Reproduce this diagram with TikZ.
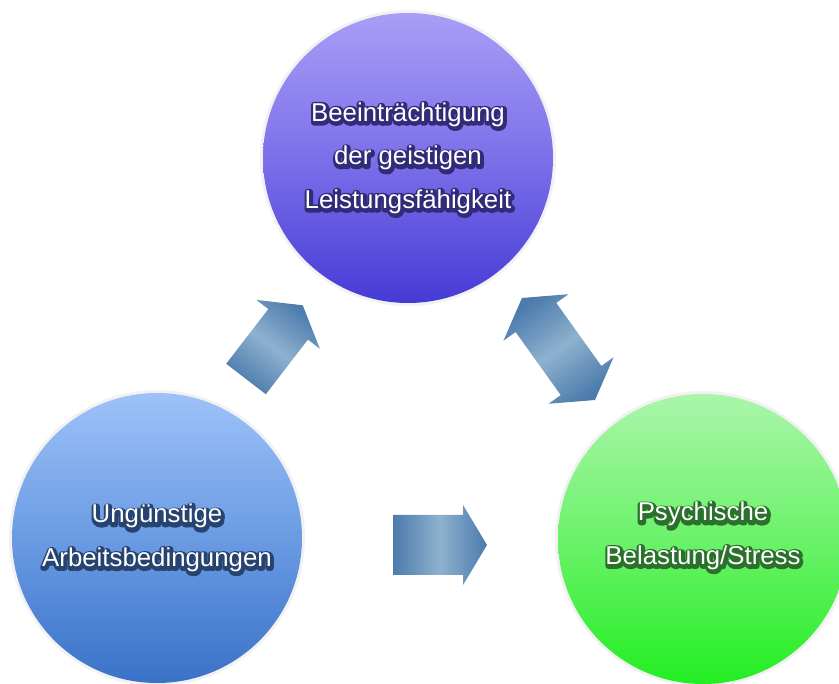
\documentclass[tikz,border=0pt]{standalone}
\usepackage{fontspec}
\setmainfont{Liberation Sans}
\usetikzlibrary{calc}
\definecolor{purT}{HTML}{A99DF7}
\definecolor{purM}{HTML}{7C70EA}
\definecolor{purB}{HTML}{463AD6}
\definecolor{bluT}{HTML}{9DC2F8}
\definecolor{bluM}{HTML}{6A9BE3}
\definecolor{bluB}{HTML}{3A72C8}
\definecolor{grnT}{HTML}{ABF5AA}
\definecolor{grnM}{HTML}{6CF26A}
\definecolor{grnB}{HTML}{22EE22}
\definecolor{arrD}{HTML}{4C7BAC}
\definecolor{arrL}{HTML}{8EB1CE}
\definecolor{haloP}{HTML}{1A1450}
\definecolor{haloB}{HTML}{10264A}
\definecolor{haloG}{HTML}{0E3A10}
\newcommand{\strokeon}[1]{\special{pdf:literal direct 1 Tr #1 w 1 j 1 J}}
\newcommand{\strokeoff}{\special{pdf:literal direct 0 Tr 1 w}}
\tikzset{
  bubble/.style={circle, minimum size=290bp, inner sep=0pt},
  lbl/.style={align=center, text=white, inner sep=0pt,
    font=\fontsize{25.8bp}{43.5bp}\selectfont},
  halo/.style 2 args={lbl, text=#1,
    font=\fontsize{25.8bp}{43.5bp}\selectfont\strokeon{#2},
    execute at end node=\strokeoff},
  blockarrow/.style={shade, shading=axis, top color=arrD, bottom color=arrD,
    middle color=arrL, shading angle=#1},
}
\begin{document}
\begin{tikzpicture}[x=1bp,y=1bp]
\useasboundingbox (0,0) rectangle (839,684);
\clip (0,0) rectangle (839,684);
\fill[white] (0,0) rectangle (839,684);
% soft glow round the circles
\fill[black, opacity=0.05] (408,526) circle (148);
\fill[black, opacity=0.05] (157,146) circle (148);
\fill[black, opacity=0.05] (703,145) circle (148);
% circles
\node[bubble, top color=purT, bottom color=purB, middle color=purM] (top) at (408,526) {};
\node[bubble, top color=bluT, bottom color=bluB, middle color=bluM] (left) at (157,146) {};
\node[bubble, top color=grnT, bottom color=grnB, middle color=grnM] (right) at (703,145) {};
% dark halos behind the labels
\node[halo={haloP!75!purM}{6}] (topH) at ($(top)+(0.8,-1.5)$) {Beeinträchtigung\\der geistigen\\Leistungsfähigkeit};
\node[halo={haloB!75!bluM}{6}] (leftH) at ($(left)+(0.8,-1.5)$) {Ungünstige\\Arbeitsbedingungen};
\node[halo={haloG!70!grnM}{6}] (rightH) at ($(right)+(0.8,1.5)$) {Psychische\\Belastung/Stress};
% labels
\node[lbl] (topT) at (top) {Beeinträchtigung\\der geistigen\\Leistungsfähigkeit};
\node[lbl] (leftT) at (left) {Ungünstige\\Arbeitsbedingungen};
\node[lbl] (rightT) at ($(right)+(0,3)$) {Psychische\\Belastung/Stress};
% arrow: left -> top
\coordinate (a1) at (246,305);
\begin{scope}[shift={(a1)}, rotate=52.4]
  \path[blockarrow=-37.6] (0,-25) -- (69,-25) -- (69,-40) -- (93,0) -- (69,40) -- (69,25) -- (0,25) -- cycle;
\end{scope}
% arrow: left -> right
\coordinate (a2) at (393,139);
\begin{scope}[shift={(a2)}]
  \path[blockarrow=90] (0,-30) -- (70,-30) -- (70,-40) -- (94,0) -- (70,40) -- (70,30) -- (0,30) -- cycle;
\end{scope}
% double arrow: top <-> right
\coordinate (a3) at (558.5,335);
\begin{scope}[shift={(a3)}, rotate=-54.4]
  \path[blockarrow=35.6] (-62.75,0) -- (-38.75,40) -- (-38.75,25) -- (38.75,25) -- (38.75,40) -- (62.75,0) -- (38.75,-40) -- (38.75,-25) -- (-38.75,-25) -- (-38.75,-40) -- cycle;
\end{scope}
\end{tikzpicture}
\end{document}
